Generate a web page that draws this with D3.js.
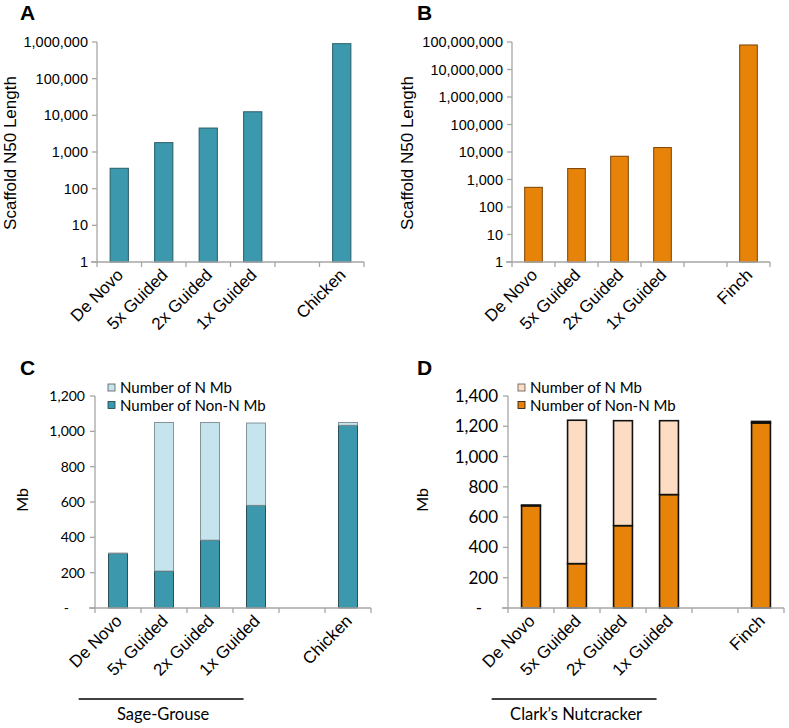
<!DOCTYPE html>
<html>
<head>
<meta charset="utf-8">
<script src="https://cdn.jsdelivr.net/npm/d3@7"></script>
<style>
  body { margin: 0; background: #fff; }
  svg text { fill: #000; }
</style>
</head>
<body>
<svg id="chart" width="789" height="728"></svg>
<script>
// categories (blank slot between guided assemblies and reference)
const catsGrouse = ["De Novo", "5x Guided", "2x Guided", "1x Guided", " ", "Chicken"];
const catsNut = ["De Novo", "5x Guided", "2x Guided", "1x Guided", " ", "Finch"];

// scaffold N50 lengths (log scale)
const n50Grouse = [360, 1800, 4500, 12500, null, 900000];
const n50Nut = [520, 2500, 7000, 14500, null, 78000000];

// Mb: non-N and N portions
const nonNGrouse = [308, 209, 384, 581, null, 1034];
const nGrouse = [3, 841, 666, 466, null, 16];
const nonNNut = [675, 293, 544, 749, null, 1222];
const nNut = [5, 947, 693, 488, null, 10];

const logTicksA = [1, 10, 100, 1e3, 1e4, 1e5, 1e6];
const logTicksB = [1, 10, 100, 1e3, 1e4, 1e5, 1e6, 1e7, 1e8];
const mbTicksC = [0, 200, 400, 600, 800, 1000, 1200];
const mbTicksD = [0, 200, 400, 600, 800, 1000, 1200, 1400];

const legendLabels = ["Number of N Mb", "Number of Non-N Mb"];

const svg = d3.select("#chart");
const axisColor = "#a6a6a6";
const arial = "'Liberation Sans', Arial, sans-serif";
const calib = "Lato, 'Open Sans', sans-serif";
const fmt = d3.format(",");

// shared x axis: slots + ticks at slot edges + rotated labels
function drawXAxis(g, x, bottom) {
  const [x0, x1] = x.range();
  g.append("line")
    .attr("x1", x0 - 6).attr("x2", x1)
    .attr("y1", bottom).attr("y2", bottom)
    .attr("stroke", axisColor).attr("stroke-width", 1.3);
  const step = x.step();
  for (let i = 0; i <= x.domain().length; i++) {
    g.append("line")
      .attr("x1", x0 + i * step).attr("x2", x0 + i * step)
      .attr("y1", bottom).attr("y2", bottom + 5)
      .attr("stroke", axisColor).attr("stroke-width", 1.3);
  }
  x.domain().forEach(c => {
    const cx = x(c) + x.bandwidth() / 2 + 5;
    g.append("text")
      .attr("transform", `translate(${cx},${bottom + 14}) rotate(-45)`)
      .attr("text-anchor", "end")
      .attr("font-family", arial)
      .attr("font-size", 17)
      .text(c.trim());
  });
}

function drawYAxisLine(g, left, y) {
  const [b, t] = y.range();
  g.append("line")
    .attr("x1", left).attr("x2", left)
    .attr("y1", t).attr("y2", b)
    .attr("stroke", axisColor).attr("stroke-width", 1.3);
}

// -------------------- log panels A, B --------------------
function logPanel(opt) {
  const g = svg.append("g");
  const x = d3.scaleBand().domain(opt.cats)
    .range([opt.left, opt.right]).paddingInner(0.59).paddingOuter(0.295);
  const y = d3.scaleLog().domain(opt.domain).range([262, 42]);

  drawYAxisLine(g, opt.left, y);
  opt.ticks.forEach(t => {
    g.append("line")
      .attr("x1", opt.left - 5).attr("x2", opt.left)
      .attr("y1", y(t)).attr("y2", y(t))
      .attr("stroke", axisColor).attr("stroke-width", 1.3);
    g.append("text")
      .attr("x", opt.left - 9).attr("y", y(t))
      .attr("dy", "0.35em")
      .attr("text-anchor", "end")
      .attr("font-family", arial)
      .attr("font-size", 14.5)
      .text(fmt(t));
  });

  g.selectAll("rect.bar")
    .data(opt.cats.map((c, i) => ({ c, v: opt.values[i] })).filter(d => d.v != null))
    .enter().append("rect")
    .attr("class", "bar")
    .attr("x", d => x(d.c))
    .attr("width", x.bandwidth())
    .attr("y", d => y(d.v))
    .attr("height", d => 262 - y(d.v))
    .attr("fill", opt.color)
    .attr("stroke", opt.stroke)
    .attr("stroke-width", 1);

  drawXAxis(g, x, 262);

  g.append("text")
    .attr("transform", `translate(${opt.titleX},153) rotate(-90)`)
    .attr("text-anchor", "middle")
    .attr("font-family", arial)
    .attr("font-size", 17)
    .text("Scaffold N50 Length");

  g.append("text")
    .attr("x", opt.letterX).attr("y", 20)
    .attr("font-family", arial).attr("font-weight", "bold")
    .attr("font-size", 21)
    .text(opt.letter);
}

logPanel({ cats: catsGrouse, values: n50Grouse, domain: [1, 1e6], ticks: logTicksA,
  left: 97, right: 364, color: "#3c98ac", stroke: "#2a5d68",
  titleX: 16, letter: "A", letterX: 20 });
logPanel({ cats: catsNut, values: n50Nut, domain: [1, 1e8], ticks: logTicksB,
  left: 512, right: 770, color: "#e8830a", stroke: "#7a4205",
  titleX: 413, letter: "B", letterX: 417 });

// -------------------- stacked panels C, D --------------------
function stackPanel(opt) {
  const g = svg.append("g");
  const top = 396, bottom = 608;
  const x = d3.scaleBand().domain(opt.cats)
    .range([opt.left, opt.right]).paddingInner(0.59).paddingOuter(0.295);
  const y = d3.scaleLinear().domain([0, opt.max]).range([bottom, top]);

  drawYAxisLine(g, opt.left, y);
  opt.ticks.forEach(t => {
    g.append("line")
      .attr("x1", opt.left - 5).attr("x2", opt.left)
      .attr("y1", y(t)).attr("y2", y(t))
      .attr("stroke", axisColor).attr("stroke-width", 1.3);
    g.append("text")
      .attr("x", opt.left - (t === 0 ? 26 : 10)).attr("y", y(t))
      .attr("dy", "0.35em")
      .attr("text-anchor", "end")
      .attr("font-family", calib)
      .attr("font-size", opt.tickSize)
      .text(t === 0 ? "-" : fmt(t));
  });

  const rows = opt.cats.map((c, i) => ({ c, lo: opt.nonN[i], hi: opt.nN[i] }))
    .filter(d => d.lo != null);

  // Non-N part
  g.selectAll("rect.low").data(rows).enter().append("rect")
    .attr("class", "low")
    .attr("x", d => x(d.c)).attr("width", x.bandwidth())
    .attr("y", d => y(d.lo)).attr("height", d => bottom - y(d.lo))
    .attr("fill", opt.color).attr("stroke", opt.stroke).attr("stroke-width", opt.sw);
  // N part
  g.selectAll("rect.high").data(rows).enter().append("rect")
    .attr("class", "high")
    .attr("x", d => x(d.c)).attr("width", x.bandwidth())
    .attr("y", d => y(d.lo + d.hi)).attr("height", d => y(d.lo) - y(d.lo + d.hi))
    .attr("fill", opt.light).attr("stroke", opt.lightStroke).attr("stroke-width", opt.sw);

  drawXAxis(g, x, bottom);

  g.append("text")
    .attr("transform", `translate(${opt.titleX},500) rotate(-90)`)
    .attr("text-anchor", "middle")
    .attr("font-family", calib)
    .attr("font-size", 16)
    .text("Mb");

  // legend
  const lg = g.append("g").attr("transform", `translate(${opt.legX},384)`);
  [opt.light, opt.color].forEach((col, i) => {
    lg.append("rect")
      .attr("x", 0).attr("y", i * 17.5)
      .attr("width", 7).attr("height", 7)
      .attr("fill", col).attr("stroke", i ? opt.stroke : "#555").attr("stroke-width", 0.8);
    lg.append("text")
      .attr("x", 12).attr("y", i * 17.5 + 4)
      .attr("dy", "0.35em")
      .attr("font-family", calib).attr("font-size", 15)
      .text(legendLabels[i]);
  });

  // group underline + name
  const gx0 = x(opt.cats[0]) - x.step() * 0.65;
  const gx1 = x(opt.cats[3]) - 3;
  g.append("line")
    .attr("x1", gx0).attr("x2", gx1)
    .attr("y1", 699).attr("y2", 699)
    .attr("stroke", "#000").attr("stroke-width", 1.5);
  g.append("text")
    .attr("x", (gx0 + gx1) / 2 + 2).attr("y", 720)
    .attr("text-anchor", "middle")
    .attr("font-family", calib).attr("font-size", 16.5)
    .text(opt.group);

  g.append("text")
    .attr("x", opt.letterX).attr("y", 375)
    .attr("font-family", arial).attr("font-weight", "bold")
    .attr("font-size", 21)
    .text(opt.letter);
}

stackPanel({ cats: catsGrouse, nonN: nonNGrouse, nN: nGrouse, max: 1200, ticks: mbTicksC,
  left: 95, right: 371, color: "#3c98ac", light: "#c5e4ed", stroke: "#1f3f46",
  lightStroke: "#7a8a8e", sw: 0.9, tickSize: 14, titleX: 28, legX: 108,
  group: "Sage-Grouse", letter: "C", letterX: 20 });
stackPanel({ cats: catsNut, nonN: nonNNut, nN: nNut, max: 1400, ticks: mbTicksD,
  left: 508, right: 784, color: "#e8830a", light: "#fddcc4", stroke: "#111",
  lightStroke: "#111", sw: 1.6, tickSize: 17, titleX: 428, legX: 518,
  group: "Clark\u2019s Nutcracker", letter: "D", letterX: 417 });
</script>
</body>
</html>
